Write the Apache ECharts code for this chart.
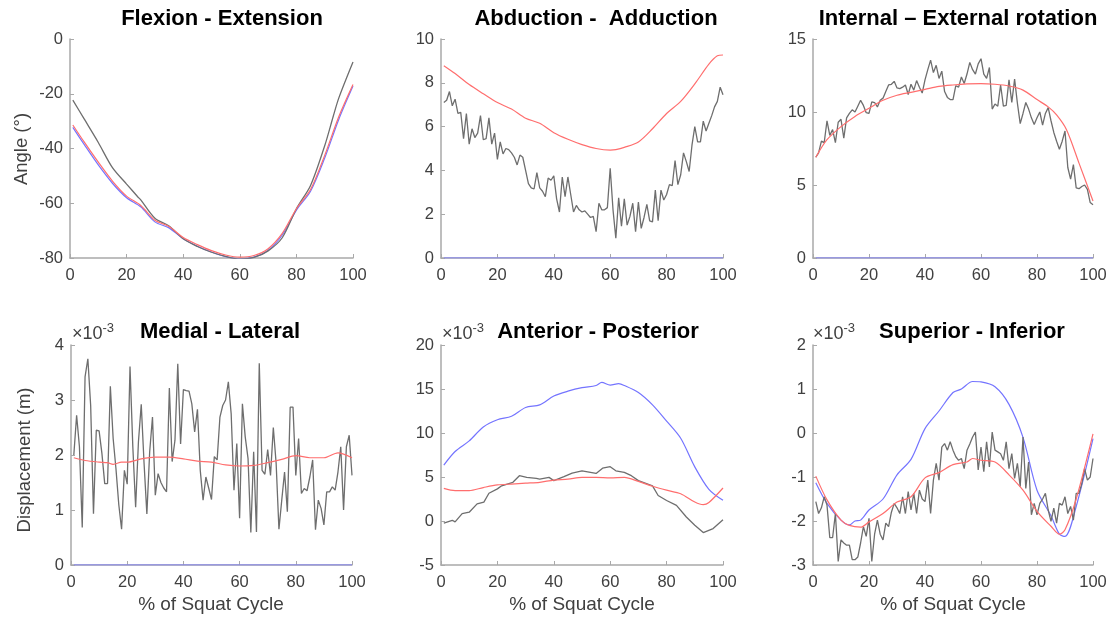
<!DOCTYPE html>
<html>
<head>
<meta charset="utf-8">
<script src="https://cdn.jsdelivr.net/npm/echarts@6/dist/echarts.min.js"></script>
<style>
html,body{margin:0;padding:0;background:#fff;}
#chart{width:1115px;height:621px;}
</style>
</head>
<body>
<div id="chart"></div>
<script>
// ---------- DATA ----------
const panelTitles = ['Flexion - Extension', 'Abduction -  Adduction', 'Internal \u2013 External rotation',
                     'Medial - Lateral', 'Anterior - Posterior', 'Superior - Inferior'];
const yAxisLabelTop = 'Angle (\u00b0)';
const yAxisLabelBottom = 'Displacement (m)';
const xAxisLabel = '% of Squat Cycle';
const xTicks = [0, 20, 40, 60, 80, 100];

// % of squat cycle for the sampled (noisy) series
const cycle = [1,2,3,4,5,6,7,8,9,10,11,12,13,14,15,16,17,18,19,20,
  21,22,23,24,25,26,27,28,29,30,31,32,33,34,35,36,37,38,39,40,
  41,42,43,44,45,46,47,48,49,50,51,52,53,54,55,56,57,58,59,60,
  61,62,63,64,65,66,67,68,69,70,71,72,73,74,75,76,77,78,79,80,
  81,82,83,84,85,86,87,88,89,90,91,92,93,94,95,96,97,98,99,100];

// Flexion - Extension (deg), [cycle %, value]
const flexGray = [[1,-22.3],[5,-29.2],[10,-37.8],[15,-47],[20,-53],[24,-57.7],[25,-58.8],[30,-65.5],[35,-68.3],[40,-73],
  [45,-75.8],[50,-77.9],[55,-79.4],[60,-80.4],[65,-79.8],[70,-77.4],[75,-72.6],[80,-62],[85,-53.5],[90,-39],[93,-28.3],[95,-21.5],[100,-8.4]];
const flexRed = [[1,-31.4],[5,-37.6],[10,-45],[15,-51.9],[20,-57.4],[25,-60.8],[30,-66.2],[35,-68.5],[40,-72.5],
  [45,-75.1],[50,-77.3],[55,-78.9],[60,-79.7],[65,-79.1],[70,-76.6],[75,-71],[80,-62],[85,-55],[90,-42.5],[95,-28.3],[100,-16.6]];
const flexBlue = [[1,-32.3],[5,-38.5],[10,-46],[15,-52.7],[20,-58],[25,-61.3],[30,-66.8],[35,-69],[40,-73],
  [45,-75.7],[50,-77.8],[55,-79.5],[60,-80.3],[65,-79.7],[70,-77.2],[75,-71.6],[80,-62.5],[85,-55.6],[90,-43.5],[95,-29.3],[100,-17.2]];

// Abduction - Adduction (deg)
const abdGray = [7.1,7.2,7.6,6.95,7.25,6.6,6.65,5.45,6.6,5.2,
  5.9,5.5,5.7,6.5,5.4,5.45,6.4,5.2,5.7,4.5,
  5.3,4.75,5.0,4.95,4.8,4.6,4.25,4.7,4.6,4.0,
  3.4,3.2,3.15,3.9,3.2,3.05,2.8,3.65,3.55,3.75,
  2.7,2.1,3.7,2.8,3.7,2.9,2.1,2.4,2.2,2.1,
  2.15,2.0,1.85,1.9,1.2,2.5,2.2,2.2,2.3,4.1,
  2.2,0.9,2.75,1.45,2.7,1.5,1.9,2.5,1.2,2.55,
  1.35,1.85,2.45,1.7,1.65,3.1,1.7,3.1,2.65,2.9,
  3.35,3.3,4.45,3.35,3.8,4.8,4.4,3.95,5.15,6.0,
  5.3,5.3,6.25,5.8,6.15,6.5,6.9,7.15,7.8,7.45];
const abdRed = [[1,8.78],[5,8.42],[10,7.92],[15,7.5],[20,7.1],[25,6.8],[30,6.38],[35,6.15],[40,5.72],[45,5.42],
  [50,5.18],[55,5.0],[60,4.93],[62,4.95],[65,5.05],[70,5.3],[75,5.9],[80,6.6],[85,7.15],[90,7.95],[95,8.85],[98,9.23],[100,9.27]];
const abdBlue = [[1,0],[100,0]];

// Internal - External rotation (deg)
const rotGray = [6.9,7.2,8.0,7.9,9.4,8.4,8.8,7.9,9.3,9.5,
  8.2,9.6,9.9,10.15,10.0,10.4,10.8,10.45,9.95,9.9,
  10.7,10.65,10.35,10.8,10.95,11.4,11.85,11.9,12.1,11.65,
  11.6,11.7,11.85,11.2,11.9,11.5,12.15,11.7,11.3,12.2,
  12.9,13.55,12.7,13.2,12.3,12.8,11.4,11.0,10.85,10.85,
  11.8,11.7,12.4,11.95,12.6,13.4,12.9,12.6,13.3,13.65,
  12.6,12.3,13.05,10.2,10.55,10.4,11.85,10.4,10.45,12.2,
  10.65,12.25,10.6,9.2,9.9,10.65,10.2,9.6,9.15,9.6,
  10.0,9.1,9.9,10.3,9.4,8.6,8.0,7.45,8.0,8.7,
  6.2,5.4,6.4,4.8,4.75,4.9,5.0,4.7,3.8,3.65];
const rotRed = [[1,6.9],[5,8.1],[10,9.0],[15,9.7],[20,10.25],[25,10.8],[30,11.15],[35,11.35],[40,11.55],[45,11.75],
  [50,11.85],[55,11.92],[60,11.95],[65,11.9],[70,11.78],[75,11.5],[80,10.85],[84,10.35],[87,9.8],[90.5,8.8],[95,6.5],[100,3.9]];
const rotBlue = [[1,0],[100,0]];

// Medial - Lateral (x 10^-3 m)
const mlGray = [2.0,2.72,2.15,0.68,3.42,3.75,2.9,0.93,2.45,2.44,
  2.03,1.48,1.48,3.25,2.3,1.75,1.1,0.65,1.72,1.47,
  3.61,2.15,1.05,2.24,2.92,1.85,0.93,2.06,2.69,1.27,
  1.66,1.5,1.4,1.33,3.22,1.88,2.27,3.66,2.2,3.19,
  3.17,3.16,2.93,2.42,2.83,1.72,1.18,1.6,1.4,1.19,
  1.97,1.91,2.69,2.9,3.0,3.33,2.75,1.36,2.21,0.85,
  2.93,2.33,1.94,0.59,2.06,0.6,3.67,1.72,1.65,2.1,
  1.63,2.5,1.85,0.65,1.18,1.69,0.97,2.87,2.87,1.63,
  2.3,1.3,1.39,1.35,1.6,1.91,0.64,1.18,1.03,0.73,
  1.33,1.33,1.42,1.36,1.69,2.15,1.0,2.15,2.36,1.63];
const mlRed = [[1,1.95],[5,1.9],[10,1.87],[13,1.86],[15,1.83],[18,1.87],[20,1.87],[25,1.93],[30,1.96],[35,1.96],
  [40,1.93],[45,1.89],[50,1.87],[55,1.82],[60,1.8],[65,1.81],[70,1.86],[75,1.92],[80,1.99],[85,1.95],[90,1.95],[95,2.04],[100,1.95]];
const mlBlue = [[1,0],[100,0]];

// Anterior - Posterior (x 10^-3 m)
const apGray = [[1,-0.23],[4,0.08],[5,-0.1],[7.5,0.83],[10,1.0],[12.8,1.95],[15.2,2.14],[17,3.15],[20,3.65],[21.5,4.0],
  [25.5,4.4],[27.8,5.15],[30.4,4.96],[33.8,4.85],[35,4.77],[38.3,4.96],[40,4.59],[43.6,5.04],[46.5,5.45],[50,5.7],
  [55,5.4],[57.3,6.0],[60,6.17],[62,5.7],[65,5.53],[67.5,5.15],[70,4.59],[75,4.0],[77,2.9],[80,2.33],
  [83.5,1.77],[87,0.45],[90,-0.49],[93,-1.32],[96.5,-0.86],[100,0.15]];
const apRed = [[1,3.7],[5,3.45],[10,3.45],[15,3.8],[20,4.1],[25,4.2],[30,4.3],[35,4.4],[40,4.65],[45,4.75],
  [50,4.95],[55,4.95],[60,4.9],[65,4.95],[70,4.5],[75,3.95],[80,3.5],[85,3.1],[90,2.15],[93,1.85],[95,2.1],[100,3.75]];
const apBlue = [[1,6.35],[5,7.9],[10,9.1],[15,10.68],[20,11.5],[25,11.9],[30,12.9],[35,13.2],[40,14.2],[45,14.75],
  [50,15.15],[55,15.4],[57,15.75],[60,15.45],[63,15.6],[65,15.4],[70,14.6],[75,13.2],[80,11.35],[85,9.4],[90,6.15],[95,3.6],[100,2.35]];

// Superior - Inferior (x 10^-3 m)
const siGray = [-1.56,-1.83,-1.7,-1.45,-1.64,-2.38,-2.38,-1.83,-2.92,-2.43,
  -2.5,-2.55,-2.55,-2.88,-2.88,-2.82,-2.5,-2.13,-2.35,-1.94,
  -2.92,-2.3,-1.98,-2.3,-2.43,-2.05,-2.13,-1.8,-1.6,-1.7,
  -1.83,-1.45,-1.83,-1.33,-1.75,-1.37,-1.83,-1.3,-1.5,-1.56,
  -1.07,-1.83,-1.07,-0.69,-1.07,-0.32,-0.24,-0.39,-0.2,-0.39,
  -0.54,-0.62,-0.58,-0.81,-0.39,-0.25,-0.09,0.02,-0.84,-0.32,
  -0.88,-0.2,-0.77,0.02,-0.39,-0.43,-0.47,-0.62,-0.2,-0.81,
  -0.47,-1.03,-0.69,-1.22,-0.09,-1.26,-0.66,-1.86,-1.6,-1.86,
  -1.6,-1.5,-1.37,-1.75,-2.01,-1.71,-2.05,-1.6,-1.64,-1.45,
  -1.83,-1.67,-1.98,-1.37,-1.37,-1.15,-0.81,-1.07,-1.0,-0.58];
const siRed = [[1,-0.98],[5,-1.52],[10,-1.98],[13,-2.1],[17,-2.14],[20,-2.02],[25,-1.83],[30,-1.57],[35,-1.45],[40,-1.02],
  [45,-0.9],[50,-0.72],[55,-0.66],[57,-0.58],[60,-0.62],[65,-0.66],[70,-0.95],[75,-1.3],[80,-1.78],[85,-2.12],[88,-2.3],[90,-2.2],[94,-1.5],[100,-0.02]];
const siBlue = [[1,-1.13],[5,-1.6],[10,-1.98],[13,-2.09],[15,-2.0],[17,-1.98],[20,-1.75],[25,-1.5],[30,-0.95],[35,-0.6],
  [40,0.1],[45,0.5],[50,0.92],[53,1.0],[57,1.17],[60,1.16],[65,1.05],[70,0.65],[75,-0.1],[80,-1.3],[85,-1.88],[88,-2.3],[90,-2.35],[94,-1.67],[100,-0.13]];

// y-axis ranges [min, max, interval]
const yRanges = [[-80, 0, 20], [0, 10, 2], [0, 15, 5], [0, 4, 1], [-5, 20, 5], [-3, 2, 1]];

// ---------- CHART ----------
const FONT = '"Liberation Sans", Arial, sans-serif';
const C_GRAY = '#6e6e6e', C_RED = '#ff6e6e', C_BLUE = '#7474ff', C_AXIS = '#a9a9a9', C_TXT = '#404040';

const grids = [
  {left: 70, top: 39, width: 283, height: 219},
  {left: 441, top: 39, width: 282, height: 219},
  {left: 813, top: 39, width: 280, height: 219},
  {left: 71, top: 345, width: 281, height: 220},
  {left: 441, top: 345, width: 282, height: 220},
  {left: 813, top: 345, width: 280, height: 220}
];

const zip = arr => cycle.map((x, i) => [x, arr[i]]);
const panelSeries = [
  [flexBlue, flexGray, flexRed],
  [abdBlue, zip(abdGray), abdRed],
  [rotBlue, zip(rotGray), rotRed],
  [mlBlue, zip(mlGray), mlRed],
  [apBlue, apGray, apRed],
  [siBlue, zip(siGray), siRed]
];
const colors = [C_BLUE, C_GRAY, C_RED];
const smoothFlags = [[true, true, true], [false, false, true], [false, false, true], [false, false, true], [true, false, true], [true, false, true]];

const axisCommon = {
  axisLine: {show: true, onZero: false, lineStyle: {color: C_AXIS, width: 1.5}},
  axisTick: {show: true, inside: true, length: 4, lineStyle: {color: C_AXIS, width: 1}},
  splitLine: {show: false},
  axisLabel: {color: C_TXT, fontSize: 16.5, fontFamily: FONT}
};

const xAxes = grids.map((g, i) => Object.assign({}, axisCommon, {
  type: 'value', gridIndex: i, min: xTicks[0], max: xTicks[xTicks.length - 1], interval: 20,
  axisLabel: Object.assign({}, axisCommon.axisLabel, {margin: 9})
}));
const yAxes = grids.map((g, i) => Object.assign({}, axisCommon, {
  type: 'value', gridIndex: i, min: yRanges[i][0], max: yRanges[i][1], interval: yRanges[i][2],
  axisLabel: Object.assign({}, axisCommon.axisLabel, {margin: 7})
}));

const series = [];
panelSeries.forEach((list, p) => {
  list.forEach((d, k) => {
    series.push({
      type: 'line', xAxisIndex: p, yAxisIndex: p, data: d,
      symbol: 'none', showSymbol: false, smooth: smoothFlags[p][k] ? 0.3 : false,
      lineStyle: {color: colors[k], width: k === 1 ? 1.3 : 1.2},
      itemStyle: {color: colors[k]},
      z: 2 + k, silent: true, clip: true
    });
  });
});

const titlePos = [[222, 19], [596, 19], [958, 19], [220, 332], [598, 332], [972, 332]];
const graphics = [];
const txtStyle = (text, size, extra) => Object.assign({text: text, fill: C_TXT, fontSize: size, fontFamily: FONT,
  align: 'center', verticalAlign: 'middle', textAlign: 'center', textVerticalAlign: 'middle'}, extra || {});
panelTitles.forEach((t, i) => {
  graphics.push({type: 'text', x: titlePos[i][0], y: titlePos[i][1],
    style: txtStyle(t, 22, {fill: '#000', fontWeight: 'bold'})});
});
graphics.push({type: 'text', x: 22, y: 149, rotation: Math.PI / 2, style: txtStyle(yAxisLabelTop, 18.5)});
graphics.push({type: 'text', x: 25, y: 460, rotation: Math.PI / 2, style: txtStyle(yAxisLabelBottom, 18.5)});
[211, 582, 953].forEach(cx => {
  graphics.push({type: 'text', x: cx, y: 605, style: txtStyle(xAxisLabel, 19)});
});
[72, 442, 813].forEach(lx => {
  graphics.push({type: 'text', x: lx, y: 334,
    style: {text: '{a|\u00d710}{b|-3}', fill: C_TXT, fontFamily: FONT, align: 'left', verticalAlign: 'middle', textAlign: 'left', textVerticalAlign: 'middle',
      rich: {a: {fontSize: 18, fontFamily: FONT, fill: C_TXT, color: C_TXT}, b: {fontSize: 13, fontFamily: FONT, fill: C_TXT, color: C_TXT, verticalAlign: 'top', padding: [0, 0, 11, 0]}}}});
});

const chart = echarts.init(document.getElementById('chart'), null, {renderer: 'canvas'});
chart.setOption({
  animation: false,
  backgroundColor: '#fff',
  grid: grids,
  xAxis: xAxes,
  yAxis: yAxes,
  series: series,
  graphic: graphics
});
</script>
</body>
</html>
